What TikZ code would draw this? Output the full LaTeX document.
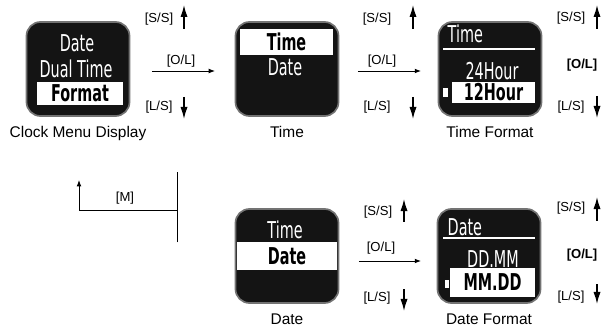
\documentclass[tikz,border=0pt]{standalone}
\usepackage{fontspec}
\setmainfont{Liberation Sans}
\newfontfamily\lcdfont[FakeStretch=0.62]{DejaVu Sans}
\usetikzlibrary{positioning}
\usetikzlibrary{arrows.meta}

\begin{document}
\begin{tikzpicture}[x=0.025cm, y=-0.025cm,
    screen/.style={rectangle, rounded corners=0.35cm, draw=black!55, line width=1.2pt, fill=black!92, minimum width=2.575cm, minimum height=2.35cm},
    lcd/.style={text=white, inner sep=1pt, font=\lcdfont\fontsize{16.5}{18}\selectfont},
    band/.style={fill=white, inner sep=0pt, font=\lcdfont\bfseries\fontsize{16.5}{18}\selectfont},
    caption/.style={font=\fontsize{11}{13}\selectfont},
    keylabel/.style={font=\fontsize{9.3}{11}\selectfont},
    key/.style={-{Latex[length=0.3cm, width=0.18cm]}, line width=1pt},
    flow/.style={-{Latex[length=0.16cm, width=0.12cm]}, line width=0.7pt}]

    \useasboundingbox (0,0) rectangle (602,326);

    % Screens
    \node[screen] (clock) at (78,69) {};
    \node[screen] (time) at (287,69) {};
    \node[screen] (timefmt) at (490,69) {};
    \node[screen] (date) at (287,256) {};
    \node[screen] (datefmt) at (489,256) {};

    % Captions
    \node[caption, below=0.1cm of clock] (clockcap) {Clock Menu Display};
    \node[caption, below=0.1cm of time] (timecap) {Time};
    \node[caption, below=0.1cm of timefmt] (timefmtcap) {Time Format};
    \node[caption, below=0.12cm of date] (datecap) {Date};
    \node[caption, below=0.12cm of datefmt] (datefmtcap) {Date Format};

    % Highlighted lines
    \node[band, minimum width=2.15cm, minimum height=0.575cm] (fmtband) at (80,93.5) {Format};
    \node[band, minimum width=2.325cm, minimum height=0.65cm] (timeband) at (286.5,42) {Time};
    \node[band, minimum width=2.075cm, minimum height=0.525cm] (hourband) at (493.5,92.5) {12Hour};
    \node[band, minimum width=2.5cm, minimum height=0.7cm] (dateband) at (287,256) {Date};
    \node[band, minimum width=2.125cm, minimum height=0.725cm] (mmddband) at (492.5,282.5) {MM.DD};

    % Screen text
    \node[lcd] (clockdate) at (77,43) {Date};
    \node[lcd] (clockdual) at (76,69) {Dual Time};
    \node[lcd] (timedate) at (285,67.5) {Date};
    \node[lcd, anchor=west] (tftitle) at (446,34) {Time};
    \node[lcd] (tf24) at (492,71) {24Hour};
    \node[lcd] (datetime) at (285,230) {Time};
    \node[lcd, anchor=west] (dftitle) at (446,227.5) {Date};
    \node[lcd] (dfddmm) at (493,259) {DD.MM};
    \draw[white, line width=1.5pt] ([shift={(-47,-20)}]timefmt.center) -- ([shift={(45,-20)}]timefmt.center);
    \draw[white, line width=1.5pt] ([shift={(-46,-18)}]datefmt.center) -- ([shift={(46,-18)}]datefmt.center);
    \node[fill=white, minimum width=0.12cm, minimum height=0.22cm, inner sep=0pt] (tfmark) at (445.5,92.5) {};
    \node[fill=white, minimum width=0.12cm, minimum height=0.22cm, inner sep=0pt] (dfmark) at (447,284) {};

    % Keys: clock menu -> time
    \node[keylabel] (ssA) at (159,19) {[S/S]};
    \node[keylabel] (olA) at (181,61) {[O/L]};
    \node[keylabel] (lsA) at (159,107) {[L/S]};
    \draw[key] ([shift={(25,10)}]ssA.center) -- ++(0,-24);
    \draw[key] ([shift={(25,-10)}]lsA.center) -- ++(0,22);
    \draw[flow] ([shift={(21.5,2)}]clock.east) -- ([shift={(-19.5,2)}]time.west);

    % Keys: time -> time format
    \node[keylabel] (ssB) at (377,19) {[S/S]};
    \node[keylabel] (olB) at (382,61) {[O/L]};
    \node[keylabel] (lsB) at (377,107) {[L/S]};
    \draw[key] ([shift={(36,10)}]ssB.center) -- ++(0,-24);
    \draw[key] ([shift={(36,-10)}]lsB.center) -- ++(0,22);
    \draw[flow] ([shift={(18.5,2)}]time.east) -- ([shift={(-16.5,2)}]timefmt.west);

    % Keys: time format
    \node[keylabel] (ssC) at (571,18) {[S/S]};
    \node[keylabel, font=\fontsize{9.3}{11}\selectfont\bfseries] (olC) at (582,65) {[O/L]};
    \node[keylabel] (lsC) at (571,107) {[L/S]};
    \draw[key] ([shift={(26,11)}]ssC.center) -- ++(0,-24);
    \draw[key] ([shift={(26,-11)}]lsC.center) -- ++(0,22);

    % Keys: date -> date format
    \node[keylabel] (ssD) at (378,212) {[S/S]};
    \node[keylabel] (olD) at (381,248) {[O/L]};
    \node[keylabel] (lsD) at (377,298) {[L/S]};
    \draw[key] ([shift={(26,10)}]ssD.center) -- ++(0,-23);
    \draw[key] ([shift={(27,-9)}]lsD.center) -- ++(0,22);
    \draw[flow] ([shift={(19.5,5)}]date.east) -- ([shift={(-15.5,5)}]datefmt.west);

    % Keys: date format
    \node[keylabel] (ssE) at (571,208) {[S/S]};
    \node[keylabel, font=\fontsize{9.3}{11}\selectfont\bfseries] (olE) at (582,255) {[O/L]};
    \node[keylabel] (lsE) at (571,297) {[L/S]};
    \draw[key] ([shift={(26,13)}]ssE.center) -- ++(0,-24);
    \draw[key] ([shift={(26,-13)}]lsE.center) -- ++(0,20);

    % Menu key
    \node[keylabel] (mlabel) at (125,198) {[M]};
    \coordinate (mbar) at (177,210);
    \draw[line width=0.7pt] ([yshift=-23]mbar) -- ([yshift=27]mbar);
    \draw[flow] (mbar) -- ++(-98,0) -- ++(0,-30);

  \end{tikzpicture}
\end{document}
